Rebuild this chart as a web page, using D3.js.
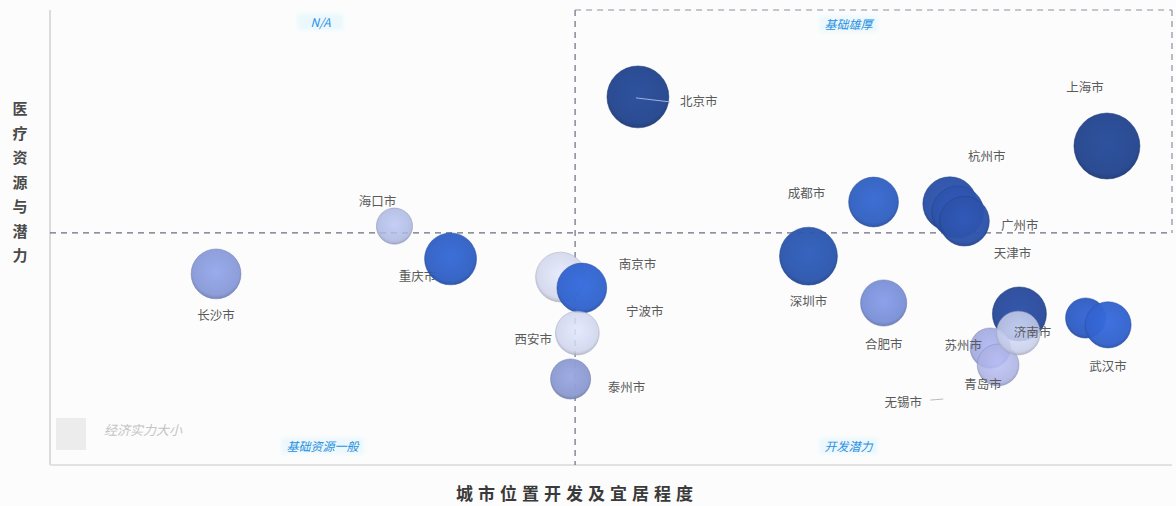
<!DOCTYPE html>
<html>
<head>
<meta charset="utf-8">
<script src="https://cdn.jsdelivr.net/npm/d3@7/dist/d3.min.js"></script>
<style>
  html, body { margin: 0; padding: 0; background: #fcfcfc; }
  svg { display: block; font-family: "Noto Sans CJK SC", "Noto Sans", sans-serif; }
</style>
</head>
<body>
<svg id="chart" width="1176" height="506"></svg>
<script>
// City bubble data: x = 城市位置开发及宜居程度, y = 医疗资源与潜力, size = 经济实力
const cities = ["北京市","上海市","杭州市","广州市","天津市","成都市","深圳市","合肥市",
  "济南市","无锡市","苏州市","青岛市","郑州市","武汉市","南京市","宁波市","西安市","泰州市",
  "长沙市","海口市","重庆市"];
const devScores = [52.4, 94.2, 80.2, 80.9, 81.5, 73.4, 67.6, 74.3,
  86.4, 86.3, 83.8, 84.5, 92.3, 94.3, 45.5, 47.4, 47.0, 46.4,
  14.8, 30.7, 35.7];
const medScores = [80.9, 70.1, 57.4, 55.6, 53.6, 57.8, 45.9, 35.6,
  33.2, 29.0, 25.7, 22.0, 32.3, 30.8, 41.3, 38.9, 29.0, 18.9,
  42.0, 52.5, 45.3];
const econSizes = [88, 100, 67, 62, 57, 57, 77, 49,
  67, 44, 37, 40, 37, 49, 57, 57, 44, 37,
  57, 30, 62];
// cities whose names are printed next to the bubble
const labelledCities = cities.filter(c => c !== "郑州市");

// axis midlines splitting the quadrants
const devMid = 46.8;
const medMid = 51.0;

const quadrantNames = ["N/A", "基础雄厚", "基础资源一般", "开发潜力"];
const xTitle = "城市位置开发及宜居程度";
const yTitle = "医疗资源与潜力";
const legendText = "经济实力大小";

// ---- styles ----
const bubbleColors = {
  "北京市":"#23458e","上海市":"#23458e","杭州市":"#2b50a6","广州市":"#2d53ab","天津市":"#2c51a8",
  "成都市":"#3160c0","深圳市":"#2b56ad","合肥市":"#7b90d6","济南市":"#294a9a","无锡市":"#c6cde9",
  "苏州市":"#9aa2dc","青岛市":"#aab0e2","郑州市":"#2f5cc2","武汉市":"#3262cc","南京市":"#cfd4e9",
  "宁波市":"#3163cc","西安市":"#cdd3ec","泰州市":"#8c9ad0","长沙市":"#899ad8","海口市":"#abb6e0",
  "重庆市":"#3060c4"
};
// label offsets from bubble centre (px) and text anchor
const labelPlace = {
  "北京市":[42,5,"start"], "上海市":[-22,-59,"middle"], "杭州市":[37,-47,"middle"],
  "广州市":[62,13,"middle"], "天津市":[48,32,"middle"], "成都市":[-67,-9,"middle"],
  "深圳市":[0,45,"middle"], "合肥市":[0,41,"middle"], "济南市":[13,19,"middle"],
  "无锡市":[-115,69,"middle"], "苏州市":[-27,-3,"middle"], "青岛市":[-15,20,"middle"],
  "武汉市":[0,42,"middle"], "南京市":[77,-13,"middle"], "宁波市":[63,23,"middle"],
  "西安市":[-44,6,"middle"], "泰州市":[56,8,"middle"], "长沙市":[0,42,"middle"],
  "海口市":[-17,-25,"middle"], "重庆市":[-33,18,"middle"]
};
// labels that sit underneath the bubbles
const labelsBelowBubbles = ["重庆市"];

const svg = d3.select("#chart");
const plot = { left: 50, right: 1172, top: 10, bottom: 465 };

const x = d3.scaleLinear().domain([0, 100]).range([plot.left, plot.right]);
const y = d3.scaleLinear().domain([0, 100]).range([plot.bottom, plot.top]);
const r = d3.scaleSqrt().domain([0, 100]).range([0, 33]);

const data = cities.map((c, i) => ({ name: c, dev: devScores[i], med: medScores[i], size: econSizes[i] }));

// gradients for the bubbles
const defs = svg.append("defs");
data.forEach((d, i) => {
  const base = d3.color(bubbleColors[d.name]);
  const g = defs.append("radialGradient").attr("id", "g" + i)
    .attr("cx", "50%").attr("cy", "45%").attr("r", "55%");
  g.append("stop").attr("offset", "0%").attr("stop-color", base.brighter(0.25));
  g.append("stop").attr("offset", "85%").attr("stop-color", base);
  g.append("stop").attr("offset", "100%").attr("stop-color", base.darker(0.5));
});
const glow = defs.append("filter").attr("id", "soft").attr("x", "-20%").attr("y", "-40%").attr("width", "140%").attr("height", "180%");
glow.append("feGaussianBlur").attr("stdDeviation", 2);

// axes frame: left and bottom lines
svg.append("line").attr("x1", plot.left).attr("x2", plot.left).attr("y1", plot.top).attr("y2", plot.bottom)
  .attr("stroke", "#d0d0d0").attr("stroke-width", 1.5);
svg.append("line").attr("x1", plot.left).attr("x2", plot.right).attr("y1", plot.bottom).attr("y2", plot.bottom)
  .attr("stroke", "#e2e2e2").attr("stroke-width", 2);

// dashed quadrant dividers and the upper-right box
const dash = { stroke: "#6a6f80", "stroke-width": 1.2, "stroke-dasharray": "6,5" };
function dashed(x1, y1, x2, y2) {
  const l = svg.append("line").attr("x1", x1).attr("y1", y1).attr("x2", x2).attr("y2", y2);
  Object.entries(dash).forEach(([k, v]) => l.attr(k, v));
  return l;
}
dashed(x(devMid), plot.top, x(devMid), plot.bottom);
dashed(plot.left, y(medMid), plot.right, y(medMid));
dashed(x(devMid), plot.top, plot.right, plot.top).attr("stroke", "#8a8f9c");
dashed(plot.right, plot.top, plot.right, y(medMid)).attr("stroke", "#8a8f9c");

// quadrant names
const quadCentres = [
  [(plot.left + x(devMid)) / 2 + 8, plot.top + 13],
  [(x(devMid) + plot.right) / 2 - 25, plot.top + 15],
  [(plot.left + x(devMid)) / 2 + 10, plot.bottom - 18],
  [(x(devMid) + plot.right) / 2 - 25, plot.bottom - 18]
];
quadrantNames.forEach((q, i) => {
  const [cx, cy] = quadCentres[i];
  const w = q.length * 12 + 10;
  svg.append("rect").attr("x", cx - w / 2).attr("y", cy - 9).attr("width", w).attr("height", 16)
    .attr("fill", "#e3f6fd").attr("opacity", 0.7).attr("filter", "url(#soft)");
  svg.append("text").attr("x", cx).attr("y", cy + 4).attr("text-anchor", "middle")
    .attr("font-size", 12).attr("font-style", "italic").attr("fill", "#2a8fe0").text(q);
});

function drawLabels(group, list) {
  data.filter(d => list.includes(d.name)).forEach(d => {
    const [dx, dy, anchor] = labelPlace[d.name];
    group.append("text").attr("x", x(d.dev) + dx).attr("y", y(d.med) + dy + 4.5)
      .attr("text-anchor", anchor).text(d.name);
  });
}

// labels drawn under the bubbles
drawLabels(svg.append("g").attr("font-size", 12.5).attr("fill", "#5a5a5a"), labelsBelowBubbles);

// leader line for 无锡市
{
  const d = data.find(e => e.name === "无锡市");
  const [dx, dy] = labelPlace[d.name];
  svg.append("line").attr("x1", x(d.dev) + dx + 27).attr("y1", y(d.med) + dy - 2)
    .attr("x2", x(d.dev) + dx + 40).attr("y2", y(d.med) + dy - 3)
    .attr("stroke", "#bbbbbb").attr("stroke-width", 1);
}

// bubbles
const drawOrder = ["长沙市","海口市","重庆市","南京市","宁波市","西安市","泰州市","北京市",
  "深圳市","成都市","合肥市","杭州市","广州市","天津市","上海市","济南市","苏州市","青岛市","无锡市",
  "郑州市","武汉市"];
svg.append("g").selectAll("circle")
  .data(drawOrder.map(n => data.find(d => d.name === n)))
  .join("circle")
  .attr("cx", d => x(d.dev))
  .attr("cy", d => y(d.med))
  .attr("r", d => r(d.size))
  .attr("fill", d => "url(#g" + data.indexOf(d) + ")")
  .attr("fill-opacity", d => d3.hsl(bubbleColors[d.name]).l > 0.7 ? 0.85 : 0.96)
  .attr("stroke", d => d3.color(bubbleColors[d.name]).darker(0.6))
  .attr("stroke-opacity", 0.5)
  .attr("stroke-width", 1);

// leader line inside 北京市 bubble
{
  const d = data.find(e => e.name === "北京市");
  svg.append("line").attr("x1", x(d.dev) - 2).attr("y1", y(d.med) + 1)
    .attr("x2", x(d.dev) + 32).attr("y2", y(d.med) + 5)
    .attr("stroke", "#9fb3e0").attr("stroke-width", 1);
}

// labels drawn over the bubbles
drawLabels(svg.append("g").attr("font-size", 12.5).attr("fill", "#5a5a5a"),
  labelledCities.filter(c => !labelsBelowBubbles.includes(c)));

// legend
svg.append("rect").attr("x", 56).attr("y", 418).attr("width", 30).attr("height", 32)
  .attr("fill", "#ececec");
svg.append("text").attr("x", 104).attr("y", 435).attr("font-size", 13).attr("font-style", "italic")
  .attr("fill", "#c4c4c4").text(legendText);

// axis titles
svg.append("text").attr("x", x(devMid) + 2).attr("y", 500)
  .attr("text-anchor", "middle").attr("font-size", 17).attr("font-weight", "bold")
  .attr("letter-spacing", 5).attr("fill", "#3a3a3a").text(xTitle);
const yt = svg.append("text").attr("font-size", 15).attr("font-weight", "bold").attr("fill", "#4a4a4a")
  .attr("text-anchor", "middle");
Array.from(yTitle).forEach((ch, i) => {
  yt.append("tspan").attr("x", 20).attr("y", 114 + i * 24.5).text(ch);
});
</script>
</body>
</html>
